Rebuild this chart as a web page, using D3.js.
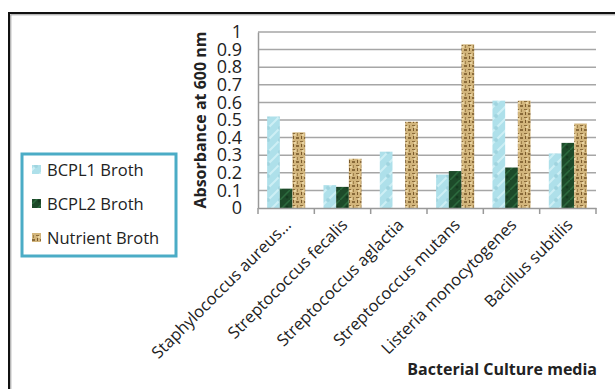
<!DOCTYPE html>
<html>
<head>
<meta charset="utf-8">
<script src="https://cdn.jsdelivr.net/npm/d3@7"></script>
<style>
  body { margin: 0; background: #fff; }
  svg text { font-family: "Open Sans", sans-serif; fill: #222; }
</style>
</head>
<body>
<svg id="chart" width="615" height="389"></svg>
<script>
const categories = ['Staphylococcus aureus...', 'Streptococcus fecalis', 'Streptococcus aglactia',
  'Streptococcus mutans', 'Listeria monocytogenes', 'Bacillus subtilis'];
const seriesNames = ['BCPL1 Broth', 'BCPL2 Broth', 'Nutrient Broth'];
const bcpl1 = [0.52, 0.13, 0.32, 0.19, 0.61, 0.31];
const bcpl2 = [0.11, 0.12, 0, 0.21, 0.23, 0.37];
const nutrient = [0.43, 0.28, 0.49, 0.93, 0.61, 0.48];
const yTicks = [0, 0.1, 0.2, 0.3, 0.4, 0.5, 0.6, 0.7, 0.8, 0.9, 1];

const series = [bcpl1, bcpl2, nutrient];
const fills = ['url(#pBlue)', 'url(#pGreen)', 'url(#pTan)'];

const svg = d3.select('#chart');
const margin = {left: 258, right: 19, top: 32, bottom: 181};
const W = 615, H = 389;

// outer frame (runs off right and bottom)
svg.append('rect').attr('x', 9).attr('y', 13).attr('width', 640).attr('height', 420)
  .attr('fill', 'none').attr('stroke', '#111').attr('stroke-width', 2);
svg.append('rect').attr('x', 10.8).attr('y', 14.8).attr('width', 640).attr('height', 420)
  .attr('fill', 'none').attr('stroke', '#999').attr('stroke-width', 1);

// textures
const defs = svg.append('defs');
let p = defs.append('pattern').attr('id', 'pBlue').attr('patternUnits', 'userSpaceOnUse')
  .attr('width', 12).attr('height', 12);
p.append('rect').attr('width', 12).attr('height', 12).attr('fill', '#aee0ea');
p.append('path').attr('d', 'M0,12 L12,0 M-3,3 L3,-3 M9,15 L15,9').attr('stroke', '#cdeff5').attr('stroke-width', 2);
p.append('circle').attr('cx', 4).attr('cy', 8).attr('r', 2).attr('fill', '#9fd4df');

p = defs.append('pattern').attr('id', 'pGreen').attr('patternUnits', 'userSpaceOnUse')
  .attr('width', 10).attr('height', 10);
p.append('rect').attr('width', 10).attr('height', 10).attr('fill', '#1d4a2a');
p.append('path').attr('d', 'M0,10 L10,0').attr('stroke', '#2c6b3e').attr('stroke-width', 1.5);
p.append('circle').attr('cx', 7).attr('cy', 7).attr('r', 1.5).attr('fill', '#153a20');

p = defs.append('pattern').attr('id', 'pTan').attr('patternUnits', 'userSpaceOnUse')
  .attr('width', 8).attr('height', 8);
p.append('rect').attr('width', 8).attr('height', 8).attr('fill', '#d2b57c');
p.append('rect').attr('x', 0).attr('y', 1).attr('width', 3).attr('height', 2).attr('fill', '#8a6b3a');
p.append('rect').attr('x', 5).attr('y', 0).attr('width', 1).attr('height', 3).attr('fill', '#7a5a2c');
p.append('rect').attr('x', 4).attr('y', 5).attr('width', 3).attr('height', 1).attr('fill', '#8a6b3a');
p.append('rect').attr('x', 1).attr('y', 5).attr('width', 1).attr('height', 3).attr('fill', '#a0824c');
p.append('rect').attr('x', 6).attr('y', 6).attr('width', 2).attr('height', 2).attr('fill', '#e8d3a2');

const x = d3.scaleBand().domain(categories).range([margin.left, W - margin.right]);
const x1 = d3.scaleBand().domain(d3.range(3)).range([0, x.bandwidth()]).paddingOuter(0.72);
const y = d3.scaleLinear().domain([0, 1]).range([H - margin.bottom, margin.top]);

// gridlines
svg.append('g').selectAll('line').data(yTicks.slice(1)).join('line')
  .attr('x1', margin.left).attr('x2', W - margin.right)
  .attr('y1', d => y(d)).attr('y2', d => y(d))
  .attr('stroke', '#a6a6a6').attr('stroke-width', 1.5);

// y axis
const yAxis = svg.append('g').attr('transform', `translate(${margin.left},0)`)
  .call(d3.axisLeft(y).tickValues(yTicks).tickSize(0).tickPadding(16).tickFormat(d3.format('')));
yAxis.select('.domain').attr('stroke', '#999').attr('stroke-width', 1.5);
yAxis.selectAll('text').attr('font-size', 18).attr('fill', '#222');

// bars
svg.append('g').selectAll('g').data(series).join('g')
  .attr('fill', (d, i) => fills[i])
  .selectAll('rect').data((d, i) => d.map((v, j) => ({v, j, i}))).join('rect')
  .attr('x', d => x(categories[d.j]) + x1(d.i))
  .attr('width', x1.bandwidth())
  .attr('y', d => y(d.v))
  .attr('height', d => y(0) - y(d.v));

// x axis
const xAxis = svg.append('g').attr('transform', `translate(0,${y(0)})`)
  .call(d3.axisBottom(x).tickSize(0).tickPadding(0));
xAxis.select('.domain').attr('stroke', '#999').attr('stroke-width', 1.5);
xAxis.selectAll('.tick line').remove();
xAxis.selectAll('.tick text')
  .attr('font-size', 16.5)
  .attr('text-anchor', 'end')
  .attr('dy', 0)
  .attr('transform', 'translate(6,18) rotate(-45)')
  .attr('x', 0).attr('y', 0);
svg.append('g').selectAll('line').data(d3.range(categories.length + 1)).join('line')
  .attr('x1', i => margin.left + i * x.step()).attr('x2', i => margin.left + i * x.step())
  .attr('y1', y(0)).attr('y2', y(0) + 6)
  .attr('stroke', '#999').attr('stroke-width', 1.5);

// axis titles
svg.append('text').attr('transform', `translate(206,${(y(0) + y(1)) / 2}) rotate(-90)`)
  .attr('text-anchor', 'middle').attr('font-size', 16).attr('font-weight', 'bold')
  .text('Absorbance at 600 nm');
svg.append('text').attr('x', 597).attr('y', 375).attr('text-anchor', 'end')
  .attr('font-size', 16).attr('font-weight', 'bold').text('Bacterial Culture media');

// legend
const lg = svg.append('g');
lg.append('rect').attr('x', 22).attr('y', 154).attr('width', 154).attr('height', 102)
  .attr('fill', '#fff').attr('stroke', '#4bacc6').attr('stroke-width', 3);
const items = lg.selectAll('g').data(seriesNames).join('g')
  .attr('transform', (d, i) => `translate(32,${170 + i * 34})`);
items.append('rect').attr('x', 0).attr('y', -5).attr('width', 9).attr('height', 9)
  .attr('fill', (d, i) => fills[i]);
items.append('text').attr('x', 15).attr('y', 6).attr('font-size', 16.5).text(d => d);
</script>
</body>
</html>
